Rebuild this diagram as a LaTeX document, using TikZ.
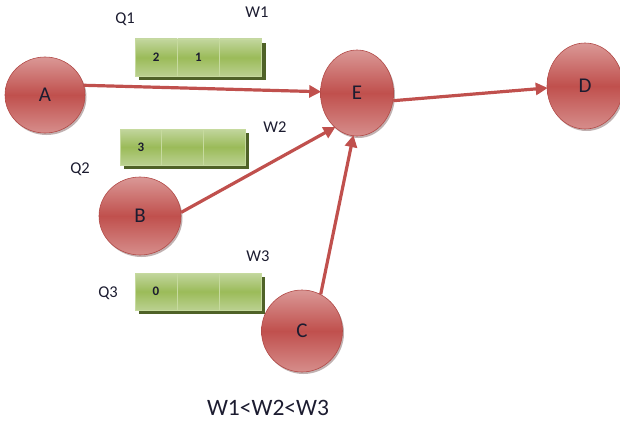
\documentclass[tikz,border=0pt]{standalone}
\usepackage{fontspec}
\setmainfont{Carlito}
\usetikzlibrary{shapes.geometric,arrows.meta,shadows}

\definecolor{nodered}{HTML}{C0504D}
\definecolor{nodelight}{HTML}{DA9896}
\definecolor{nodeedge}{HTML}{B24A47}
\definecolor{cellgreen}{HTML}{9BBB59}
\definecolor{celllight}{HTML}{C2D69E}
\definecolor{celledge}{HTML}{C6DA9E}
\definecolor{cellshadow}{HTML}{4F6228}
\definecolor{labelink}{HTML}{1C1C30}

\tikzset{
  x=1pt, y=-1pt,
  ball/.style={ellipse, draw=nodeedge, line width=0.6pt,
    top color=nodelight, bottom color=nodelight!85!nodered, middle color=nodered,
    drop shadow={shadow xshift=1.5pt, shadow yshift=-2pt, opacity=0.35, fill=nodered!40!black},
    text=labelink, font=\fontsize{21}{23}\selectfont, inner sep=0pt},
  cell/.style={rectangle, draw=celledge, line width=0.8pt,
    top color=celllight, bottom color=celllight!80!cellgreen, middle color=cellgreen,
    minimum width=42pt, minimum height=37pt, inner sep=0pt,
    text=labelink, font=\fontsize{13}{15}\selectfont\bfseries},
  qshadow/.style={fill=cellshadow},
  tag/.style={text=labelink, font=\fontsize{16.5}{18}\selectfont, inner sep=0pt},
  link/.style={draw=nodered, line width=3.2pt,
    -{Triangle[length=12pt,width=12pt]}, shorten >=-1pt},
}

\begin{document}
\begin{tikzpicture}
\useasboundingbox (0,0) rectangle (620,425);

% queue shadows
\fill[qshadow] (139,43) rectangle (266,80);
\fill[qshadow] (124,133) rectangle (249,169);
\fill[qshadow] (139,277) rectangle (265,314);

% queue Q1
\node[cell] (q1a) at (156.2,57.5) {2};
\node[cell] (q1b) at (198.5,57.5) {1};
\node[cell] (q1c) at (240.8,57.5) {};
% queue Q2
\node[cell, minimum height=36pt] (q2a) at (141,147) {3};
\node[cell, minimum height=36pt] (q2b) at (182.7,147) {};
\node[cell, minimum height=36pt] (q2c) at (224.3,147) {};
% queue Q3
\node[cell] (q3a) at (156,291.5) {0};
\node[cell] (q3b) at (198,291.5) {};
\node[cell] (q3c) at (240,291.5) {};

% labels
\node[tag] (lq1) at (125,19) {Q1};
\node[tag] (lw1) at (257,12) {W1};
\node[tag] (lq2) at (80,169) {Q2};
\node[tag] (lw2) at (275,127) {W2};
\node[tag] (lq3) at (108,293) {Q3};
\node[tag] (lw3) at (258,256) {W3};
\node[tag, font=\fontsize{23.5}{26}\selectfont] (order) at (268,408) {W1<W2<W3};

% nodes
\node[ball, minimum width=80pt, minimum height=76pt] (A) at (45,95) {A};
\node[ball, minimum width=73pt, minimum height=86pt] (E) at (357,93) {E};
\node[ball, minimum width=76pt, minimum height=86pt] (D) at (585,86) {D};
\node[ball, minimum width=82pt, minimum height=78pt] (B) at (140,216) {B};
\node[ball, minimum width=81pt, minimum height=82pt] (C) at (302,331) {C};

% connectors
\draw[link] (A.14) -- (E.178);
\draw[link] (B.5) -- (E.237);
\draw[link] (C.63) -- (E.265);
\draw[link] (E.348) -- (D.183);
\end{tikzpicture}
\end{document}
